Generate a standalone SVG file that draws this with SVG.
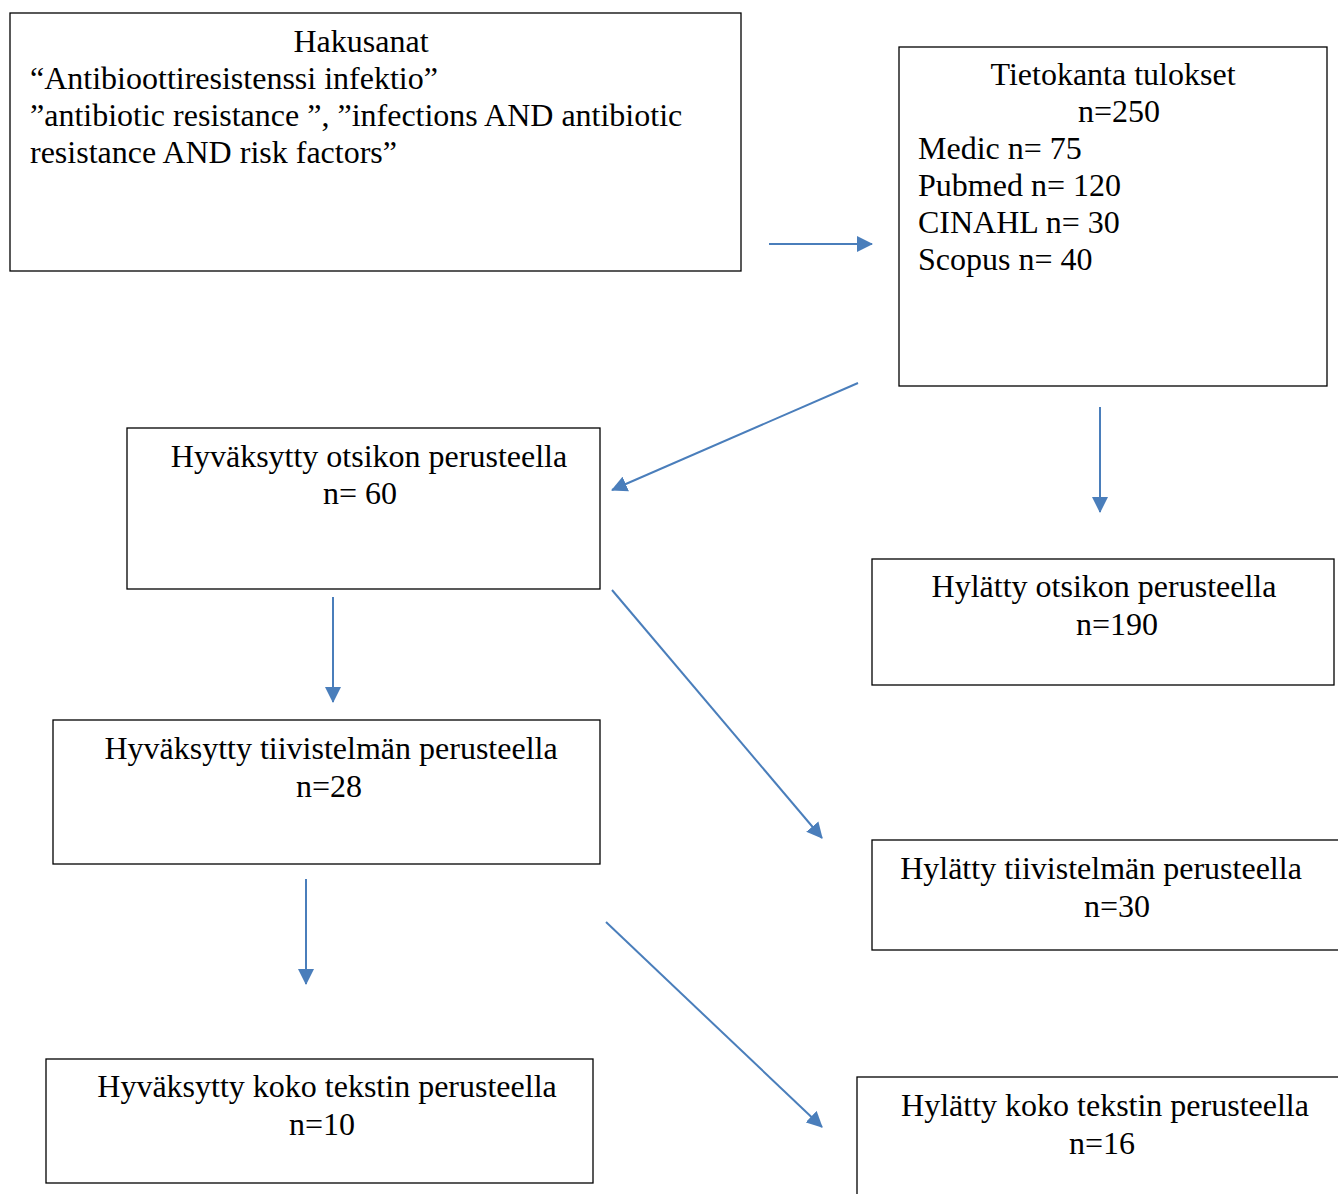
<svg xmlns="http://www.w3.org/2000/svg" width="1338" height="1194" viewBox="0 0 1338 1194">
<style>
.box{fill:#fff;stroke:#000;stroke-width:1.3}
text{font-family:"Liberation Serif","Times New Roman",serif;font-size:32px;fill:#000}
.c{text-anchor:middle}
.conn{stroke:#4a7ebb;stroke-width:2;fill:none}
</style>
<defs>
<marker id="ah" markerUnits="userSpaceOnUse" markerWidth="16" markerHeight="16" refX="15" refY="8" orient="auto">
<path d="M0,0 L16,8 L0,16 Z" fill="#4a7ebb"/>
</marker>
</defs>
<rect width="1338" height="1194" fill="#fff"/>
<g id="n1">
<rect class="box" x="10" y="13" width="731" height="258"/>
<text class="c" x="361" y="52">Hakusanat</text>
<text x="30" y="89">“Antibioottiresistenssi infektio”</text>
<text x="30" y="126">”antibiotic resistance ”, ”infections AND antibiotic</text>
<text x="30" y="163">resistance AND risk factors”</text>
</g>
<g id="n2">
<rect class="box" x="899" y="47" width="428" height="339"/>
<text class="c" x="1113" y="85">Tietokanta tulokset</text>
<text class="c" x="1119" y="122">n=250</text>
<text x="918" y="159">Medic n= 75</text>
<text x="918" y="196">Pubmed n= 120</text>
<text x="918" y="233">CINAHL n= 30</text>
<text x="918" y="270">Scopus n= 40</text>
</g>
<g id="n3">
<rect class="box" x="127" y="428" width="473" height="161"/>
<text class="c" x="369" y="467">Hyväksytty otsikon perusteella</text>
<text class="c" x="360" y="504">n= 60</text>
</g>
<g id="n4">
<rect class="box" x="872" y="559" width="462" height="126"/>
<text class="c" x="1104" y="597">Hylätty otsikon perusteella</text>
<text class="c" x="1117" y="635">n=190</text>
</g>
<g id="n5">
<rect class="box" x="53" y="720" width="547" height="144"/>
<text class="c" x="331" y="759">Hyväksytty tiivistelmän perusteella</text>
<text class="c" x="329" y="797">n=28</text>
</g>
<g id="n6">
<rect class="box" x="872" y="840" width="480" height="110"/>
<text class="c" x="1101" y="879">Hylätty tiivistelmän perusteella</text>
<text class="c" x="1117" y="917">n=30</text>
</g>
<g id="n7">
<rect class="box" x="46" y="1059" width="547" height="124"/>
<text class="c" x="327" y="1097">Hyväksytty koko tekstin perusteella</text>
<text class="c" x="322" y="1135">n=10</text>
</g>
<g id="n8">
<rect class="box" x="857" y="1077" width="490" height="130"/>
<text class="c" x="1105" y="1116">Hylätty koko tekstin perusteella</text>
<text class="c" x="1102" y="1154">n=16</text>
</g>
<g id="connectors">
<line class="conn" x1="769" y1="244" x2="872" y2="244" marker-end="url(#ah)"/>
<line class="conn" x1="858" y1="383" x2="612" y2="490" marker-end="url(#ah)"/>
<line class="conn" x1="1100" y1="407" x2="1100" y2="512" marker-end="url(#ah)"/>
<line class="conn" x1="333" y1="597" x2="333" y2="702" marker-end="url(#ah)"/>
<line class="conn" x1="612" y1="590" x2="822" y2="838" marker-end="url(#ah)"/>
<line class="conn" x1="306" y1="879" x2="306" y2="984" marker-end="url(#ah)"/>
<line class="conn" x1="606" y1="922" x2="822" y2="1127" marker-end="url(#ah)"/>
</g>
</svg>
